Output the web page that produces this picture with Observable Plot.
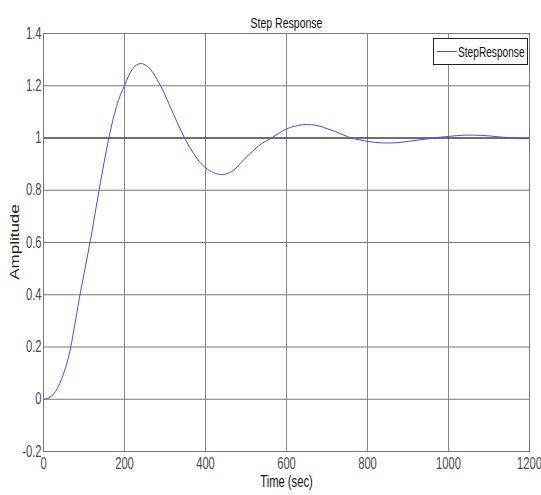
<!DOCTYPE html>
<html>
<head>
<meta charset="utf-8">
<script src="https://cdn.jsdelivr.net/npm/d3@7"></script>
<script src="https://cdn.jsdelivr.net/npm/@observablehq/plot@0.6"></script>
<style>
  html, body { margin: 0; padding: 0; background: white; }
</style>
</head>
<body>
<div id="chart"></div>
<script>
const time = [0, 10, 20, 30, 40, 50, 60, 70, 80, 90, 100, 110, 120, 130, 140, 150, 160, 170, 180, 190,
  200, 210, 220, 230, 240, 250, 260, 270, 280, 290, 300, 310, 320, 330, 340, 350, 360, 370, 380, 390,
  400, 410, 420, 430, 440, 450, 460, 470, 480, 490, 500, 520, 540, 560, 580, 600, 620, 640, 660, 680,
  700, 720, 740, 760, 780, 800, 820, 840, 860, 880, 900, 920, 940, 960, 980, 1000, 1020, 1040, 1060,
  1080, 1100, 1120, 1140, 1160, 1180, 1200];
const amplitude = [0, 0.003, 0.012, 0.03, 0.06, 0.10, 0.15, 0.222, 0.31, 0.40, 0.48, 0.56, 0.645, 0.735, 0.825, 0.91, 0.99, 1.06, 1.12, 1.165,
  1.20, 1.237, 1.265, 1.28, 1.285, 1.281, 1.27, 1.25, 1.225, 1.197, 1.165, 1.13, 1.095, 1.06, 1.027, 0.995, 0.967, 0.942, 0.92, 0.901,
  0.886, 0.875, 0.867, 0.862, 0.86, 0.862, 0.868, 0.878, 0.893, 0.91, 0.925, 0.955, 0.98, 0.997, 1.017, 1.035, 1.045, 1.051, 1.051, 1.046,
  1.036, 1.025, 1.012, 1.0, 0.993, 0.987, 0.983, 0.981, 0.981, 0.983, 0.987, 0.991, 0.995, 0.999, 1.003, 1.006, 1.009, 1.011, 1.011,
  1.01, 1.008, 1.005, 1.002, 1.0, 0.998, 0.998];

const xTicks = [0, 200, 400, 600, 800, 1000, 1200];
const yTicks = [-0.2, 0, 0.2, 0.4, 0.6, 0.8, 1, 1.2, 1.4];
const yTickLabels = ["-0.2", "0", "0.2", "0.4", "0.6", "0.8", "1", "1.2", "1.4"];
const seriesName = "StepResponse";
const title = "Step Response";
const xLabel = "Time (sec)";
const yLabel = "Amplitude";

const data = time.map((t, i) => ({t, a: amplitude[i]}));
const font = "'Liberation Sans', Arial, sans-serif";
const lineColor = "#4848ff";

const svg = Plot.plot({
  width: 541,
  height: 495,
  marginLeft: 43,
  marginRight: 12,
  marginTop: 33,
  marginBottom: 44,
  style: {fontFamily: font, fontSize: "16px", color: "#444", background: "white", overflow: "visible"},
  x: {domain: [0, 1200], label: null},
  y: {domain: [-0.2, 1.4], label: null},
  marks: [
    Plot.gridX(xTicks, {stroke: "#888", strokeOpacity: 1}),
    Plot.gridY(yTicks, {stroke: "#777", strokeOpacity: 1}),
    Plot.ruleY([1], {stroke: "#222", strokeOpacity: 1}),
    Plot.frame({stroke: "#777"}),
    Plot.axisX(xTicks, {tickSize: 0, tickPadding: 6, tickFormat: d => String(d), fill: "#4a4a4a", fontSize: 16}),
    Plot.axisY(yTicks, {tickSize: 0, tickPadding: 2, tickFormat: d => yTickLabels[yTicks.indexOf(d)], fill: "#4a4a4a", fontSize: 16}),
    Plot.line(data, {x: "t", y: "a", stroke: lineColor, strokeWidth: 1, curve: "catmull-rom"}),
    Plot.text([title], {frameAnchor: "top", dy: -16, fontSize: 15, fill: "#111"}),
    Plot.text([xLabel], {frameAnchor: "bottom", dy: 35, fontSize: 16, fill: "#111"})
  ]
});

const root = d3.select(svg);
// y-axis title
root.append("text")
  .attr("transform", "translate(19,242) scale(0.75,1) rotate(-90)")
  .attr("text-anchor", "middle")
  .attr("font-family", font)
  .attr("font-size", 17)
  .attr("fill", "#222")
  .attr("class", "ylab")
  .text(yLabel);

// legend (MATLAB-style boxed legend, top right)
const g = root.append("g").attr("font-family", font);
g.append("rect").attr("x", 433.5).attr("y", 38.5).attr("width", 94).attr("height", 26)
  .attr("fill", "white").attr("stroke", "#222");
g.append("line").attr("x1", 437).attr("x2", 457).attr("y1", 51.5).attr("y2", 51.5)
  .attr("stroke", lineColor).attr("stroke-width", 1);
g.append("text").attr("x", 458).attr("y", 57).attr("font-size", 14.5).attr("fill", "#111")
  .attr("text-anchor", "start").text(seriesName);

document.getElementById("chart").appendChild(svg);

// condense horizontal texts (the reference's lettering is narrow)
svg.querySelectorAll("text").forEach(t => {
  if (t.getAttribute("class") === "ylab") return;
  const len = t.getComputedTextLength();
  if (len > 0) {
    t.setAttribute("textLength", (len * 0.7).toFixed(2));
    t.setAttribute("lengthAdjust", "spacingAndGlyphs");
  }
});
</script>
</body>
</html>
